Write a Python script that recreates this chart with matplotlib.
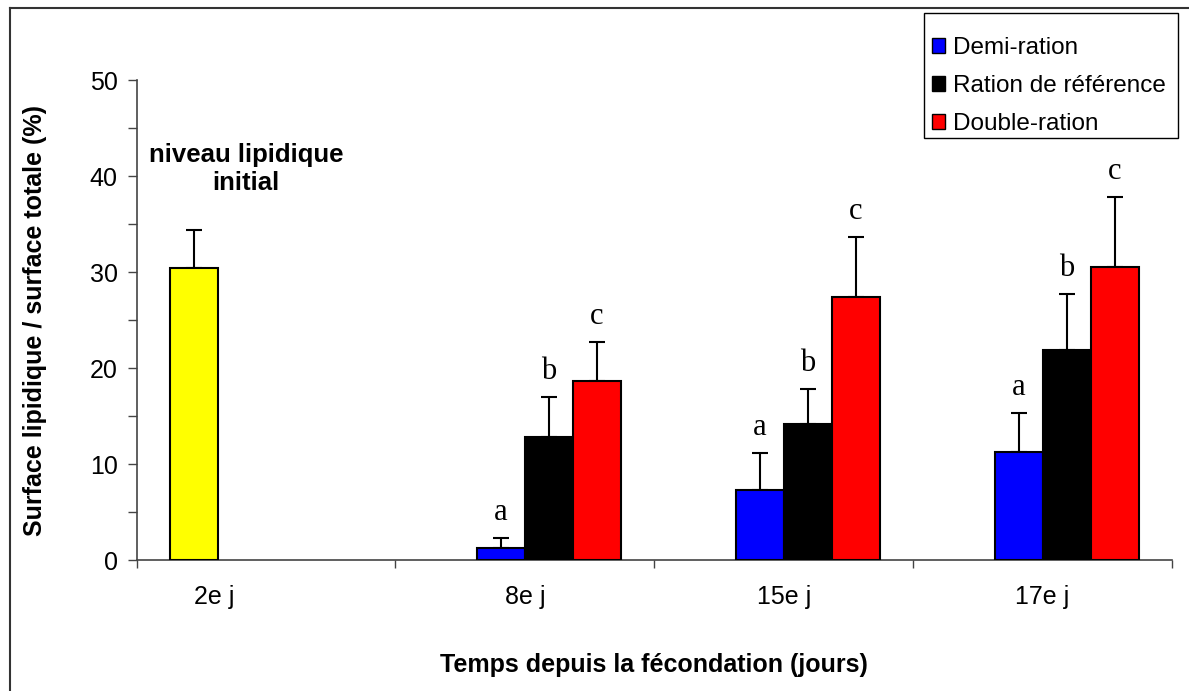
import numpy as np
import matplotlib
matplotlib.use("Agg")
import matplotlib.pyplot as plt
from matplotlib.patches import Patch, Rectangle
from matplotlib.lines import Line2D

# Data
categories = ["2e j", "8e j", "15e j", "17e j"]
initial = [30.4, np.nan, np.nan, np.nan]
initial_err = [4.0, np.nan, np.nan, np.nan]
demi = [np.nan, 1.2, 7.3, 11.3]
demi_err = [np.nan, 1.05, 3.8, 4.0]
reference = [np.nan, 12.8, 14.2, 21.9]
reference_err = [np.nan, 4.2, 3.6, 5.8]
double = [np.nan, 18.6, 27.35, 30.55]
double_err = [np.nan, 4.1, 6.25, 7.25]
letters = ["a", "b", "c"]
series_names = ["Demi-ration", "Ration de référence", "Double-ration"]

plt.rcParams["font.family"] = ["Liberation Sans", "DejaVu Sans"]

W, H = 1189, 691
fig = plt.figure(figsize=(W / 100, H / 100), dpi=100)
ax = fig.add_axes([136.5 / W, 1 - 560 / H, (1172 - 136.5) / W, 480 / H])

x = np.arange(len(categories))
bw = 0.1853
offsets = [-1.5 * bw, -0.5 * bw, 0.5 * bw, 1.5 * bw]
colors = ["#FFFF00", "#0000FF", "#000000", "#FF0000"]
vals = [initial, demi, reference, double]
errs = [initial_err, demi_err, reference_err, double_err]

for k, (v, e, c, off) in enumerate(zip(vals, errs, colors, offsets)):
    v = np.array(v, dtype=float)
    e = np.array(e, dtype=float)
    m = ~np.isnan(v)
    ax.bar(x[m] + off, v[m], width=bw, color=c, edgecolor="black",
           linewidth=1.5, zorder=3)
    lower = np.zeros(m.sum())
    ax.errorbar(x[m] + off, v[m], yerr=[lower, e[m]], fmt="none",
                ecolor="black", elinewidth=1.5, capsize=5.5, capthick=1.5,
                zorder=2)
    if k >= 1:
        for xi, vi, ei in zip(x[m] + off, v[m], e[m]):
            ax.annotate(letters[k - 1], xy=(xi, vi + ei), xytext=(0, 8),
                        textcoords="offset points", ha="center", va="bottom",
                        fontsize=22, family="Liberation Serif")

ax.set_xlim(-0.5, len(categories) - 0.5)
ax.set_ylim(0, 50)

# Axes styling
for s in ["top", "right"]:
    ax.spines[s].set_visible(False)
for s in ["left", "bottom"]:
    ax.spines[s].set_color("#444444")
    ax.spines[s].set_linewidth(1.2)

ax.set_yticks(np.arange(0, 51, 10))
ax.set_yticks(np.arange(5, 50, 10), minor=True)
ax.tick_params(axis="y", which="both", direction="out", length=6.5,
               width=1.0, color="#444444", labelsize=18, pad=7)

ax.set_xticks(np.arange(-0.5, len(categories), 1.0))
ax.set_xticklabels([])
ax.tick_params(axis="x", which="major", direction="out", length=5.5,
               width=1.0, color="#444444")
label_pos = [0 - 0.2, 1, 2, 3]
ax.set_xticks(label_pos, minor=True)
ax.set_xticklabels(categories, minor=True)
ax.tick_params(axis="x", which="minor", length=0, labelsize=18, pad=18)

ax.set_ylabel("Surface lipidique / surface totale (%)", fontsize=18,
              fontweight="bold")
ax.yaxis.set_label_coords((47 - 136.5) / (1172 - 136.5), 0.5)
fig.text(654 / W, 1 - 665 / H, "Temps depuis la fécondation (jours)",
         ha="center", va="center", fontsize=18, fontweight="bold")

ax.text(0.1057, 0.814, "niveau lipidique\ninitial", transform=ax.transAxes,
        ha="center", va="center", fontsize=18.5, fontweight="bold",
        linespacing=1.2)

# Legend entries, with a separately drawn frame
handles = [Patch(facecolor=c, edgecolor="black", linewidth=1.0)
           for c in colors[1:]]
leg = fig.legend(handles, series_names, loc="upper left",
                 bbox_to_anchor=(932 / W, 1 - 37 / H), fontsize=17.5,
                 frameon=False, handlelength=0.55, handleheight=0.55,
                 handletextpad=0.3, labelspacing=0.66, borderpad=0,
                 borderaxespad=0)
fig.add_artist(Rectangle((924 / W, 1 - 138 / H), 254 / W, 125 / H,
                         transform=fig.transFigure, fill=False,
                         edgecolor="black", linewidth=1.0))

# Outer chart frame (left and top edges)
fig.add_artist(Line2D([9.5 / W, 9.5 / W], [0, 1 - 7.5 / H], color="#333333",
                      linewidth=1.5, transform=fig.transFigure))
fig.add_artist(Line2D([9.5 / W, 1], [1 - 7.5 / H, 1 - 7.5 / H],
                      color="#333333", linewidth=1.5,
                      transform=fig.transFigure))

fig.savefig("out.png", dpi=100, facecolor="white")
